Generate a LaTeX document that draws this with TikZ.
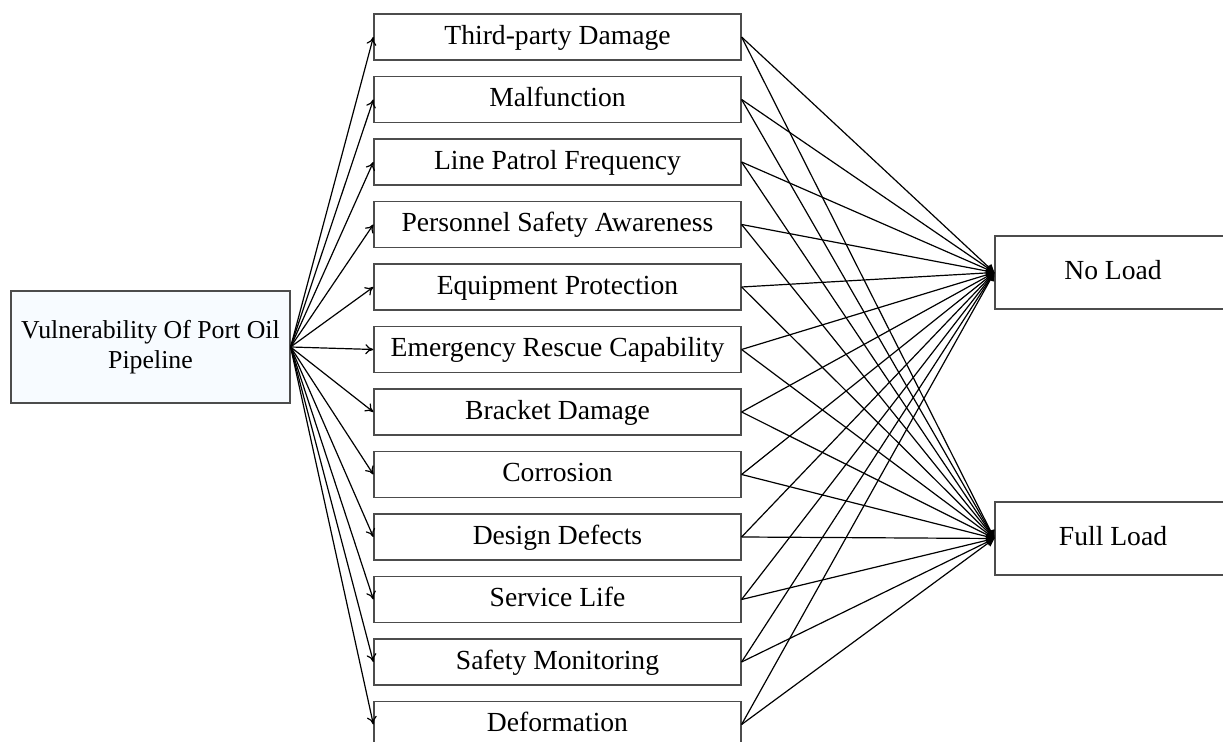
\documentclass[tikz,border=0pt]{standalone}
\usepackage{fontspec}
\setmainfont{Liberation Serif}
\usetikzlibrary{arrows.meta}
\tikzset{
  box/.style={draw=black!70, line width=0.6pt, inner sep=0pt, align=center, font=\fontsize{13.8}{15.5}\selectfont},
  mid/.style={box, minimum width=183.5pt, minimum height=23pt, text height=9.6pt, text depth=2.4pt},
  res/.style={box, minimum width=118pt, minimum height=36.5pt, text height=9.6pt, text depth=2.4pt},
  inarrow/.style={line width=0.6pt, -{To[length=4pt,width=5pt]}},
  outarrow/.style={line width=0.6pt, -{Triangle[length=4pt,width=4pt]}}
}
\begin{document}
\begin{tikzpicture}[x=0.5pt,y=-0.5pt]
\clip (0,0) rectangle (1223,742);
\node[box, font=\fontsize{12.9}{15}\selectfont, fill={rgb,255:red,247;green,251;blue,255}, minimum width=139.5pt, minimum height=56pt] (src) at (150.5,347) {Vulnerability Of Port Oil\\Pipeline};
\foreach \t [count=\i from 0] in {Third-party Damage, Malfunction, Line Patrol Frequency, Personnel Safety Awareness, Equipment Protection, Emergency Rescue Capability, Bracket Damage, Corrosion, Design Defects, Service Life, Safety Monitoring, Deformation}{
  \node[mid] (m\i) at (557.5,{37+62.5*\i}) {\t};
}
\node[res] (no) at (1113,272.5) {No Load};
\node[res] (full) at (1113,538.5) {Full Load};
\foreach \i in {0,...,11}{
  \draw[inarrow] (src.east) -- (m\i.west);
  \draw[outarrow] (m\i.east) -- (no.west);
  \draw[outarrow] (m\i.east) -- (full.west);
}
\end{tikzpicture}
\end{document}
